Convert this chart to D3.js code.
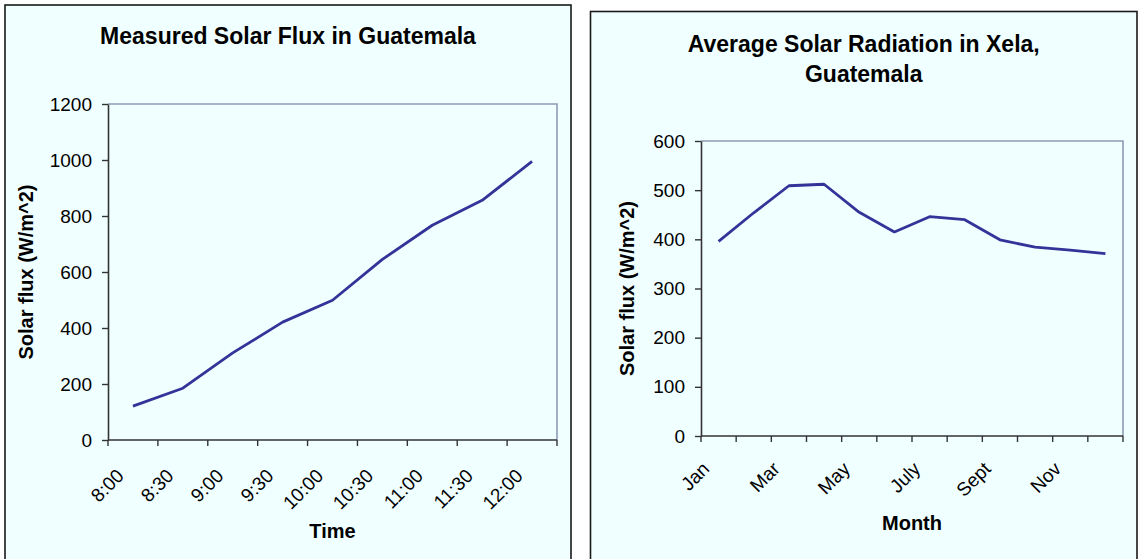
<!DOCTYPE html>
<html>
<head>
<meta charset="utf-8">
<script src="https://cdn.jsdelivr.net/npm/d3@7"></script>
<style>
  html, body { margin: 0; padding: 0; background: #ffffff; }
  svg { display: block; }
  text { font-family: "Liberation Sans", Arial, sans-serif; fill: #000; }
</style>
</head>
<body>
<svg id="chart" width="1139" height="559"></svg>
<script>
// ---- Data ----
const times = ["8:00", "8:30", "9:00", "9:30", "10:00", "10:30", "11:00", "11:30", "12:00"];
const fluxValues = [121, 185, 311, 421, 499, 645, 767, 856, 995];
const fluxTicks = [0, 200, 400, 600, 800, 1000, 1200];

const months = ["Jan", "Feb", "Mar", "Apr", "May", "June", "July", "Aug", "Sept", "Oct", "Nov", "Dec"];
const monthLabels = ["Jan", "Mar", "May", "July", "Sept", "Nov"];
const radiationValues = [396, 454, 509, 512, 455, 415, 446, 440, 399, 384, 378, 371];
const radiationTicks = [0, 100, 200, 300, 400, 500, 600];

const svg = d3.select("#chart");
const BG = "#F0FFFF";
const LINE = "#333399";
const TICK_FS = 19;

function drawPanel(cfg) {
  const g = svg.append("g");
  // panel
  g.append("rect")
    .attr("x", cfg.panel.x).attr("y", cfg.panel.y)
    .attr("width", cfg.panel.w).attr("height", cfg.panel.h)
    .attr("fill", BG).attr("stroke", "#1a1a1a").attr("stroke-width", 1.6);

  const x = d3.scaleBand().domain(cfg.cats).range([cfg.plot.x0, cfg.plot.x1]).padding(0);
  const y = d3.scaleLinear().domain([0, d3.max(cfg.ticks)]).range([cfg.plot.y1, cfg.plot.y0]);

  // plot frame (top/right)
  g.append("path")
    .attr("d", `M${x.range()[0]},${y(d3.max(cfg.ticks))}H${x.range()[1]}V${y(0)}`)
    .attr("fill", "none").attr("stroke", "#8f9bb8").attr("stroke-width", 1.6);

  // y axis
  const yAxis = d3.axisLeft(y).tickValues(cfg.ticks).tickFormat(d3.format("d"))
    .tickSize(6).tickPadding(10).tickSizeOuter(0);
  const ya = g.append("g").attr("transform", `translate(${x.range()[0]},0)`).call(yAxis);
  ya.attr("font-size", TICK_FS).attr("font-family", '"Liberation Sans", Arial, sans-serif');
  ya.select(".domain").attr("stroke", "#333").attr("stroke-width", 1.6);
  ya.selectAll(".tick line").attr("stroke", "#333").attr("stroke-width", 1.4);
  ya.selectAll(".tick text").attr("font-size", TICK_FS).attr("fill", "#000");

  // x axis baseline
  g.append("line")
    .attr("x1", x.range()[0]).attr("x2", x.range()[1])
    .attr("y1", y(0)).attr("y2", y(0))
    .attr("stroke", "#333").attr("stroke-width", 1.6);
  // x ticks at band boundaries
  const bounds = cfg.cats.map(c => x(c)).concat([x.range()[1]]);
  g.selectAll(null).data(bounds).enter().append("line")
    .attr("x1", d => d).attr("x2", d => d)
    .attr("y1", y(0)).attr("y2", y(0) + 6)
    .attr("stroke", "#333").attr("stroke-width", 1.4);
  // x labels
  g.selectAll(null).data(cfg.labels).enter().append("text")
    .attr("transform", d => `translate(${x(d) + x.bandwidth() / 2 - 8},${y(0) + cfg.labelDy}) rotate(-45)`)
    .attr("text-anchor", "end")
    .attr("font-size", TICK_FS)
    .text(d => d);

  // line
  const line = d3.line()
    .x((d, i) => x(cfg.cats[i]) + x.bandwidth() / 2)
    .y(d => y(d));
  g.append("path").datum(cfg.values)
    .attr("d", line)
    .attr("fill", "none").attr("stroke", LINE).attr("stroke-width", 2.8)
    .attr("stroke-linejoin", "round");

  // titles
  const cx = cfg.panel.x + cfg.panel.w / 2;
  cfg.title.forEach((t, i) => {
    g.append("text").attr("x", cx).attr("y", cfg.titleY + i * 30)
      .attr("text-anchor", "middle").attr("font-size", 23).attr("font-weight", "bold")
      .text(t);
  });
  g.append("text")
    .attr("x", (x.range()[0] + x.range()[1]) / 2).attr("y", cfg.xTitleY)
    .attr("text-anchor", "middle").attr("font-size", 20).attr("font-weight", "bold")
    .text(cfg.xTitle);
  g.append("text")
    .attr("transform", `translate(${cfg.yTitleX},${(y(0) + y(d3.max(cfg.ticks))) / 2}) rotate(-90)`)
    .attr("text-anchor", "middle").attr("font-size", 20).attr("font-weight", "bold")
    .text(cfg.yTitle);
}

drawPanel({
  panel: { x: 5, y: 5, w: 566, h: 600 },
  plot: { x0: 108, x1: 557, y0: 104, y1: 440 },
  cats: times, labels: times, values: fluxValues, ticks: fluxTicks,
  labelDy: 37,
  title: ["Measured Solar Flux in Guatemala"], titleY: 44,
  xTitle: "Time", xTitleY: 538,
  yTitle: "Solar flux (W/m^2)", yTitleX: 33
});

drawPanel({
  panel: { x: 590.5, y: 11.5, w: 546.5, h: 600 },
  plot: { x0: 701, x1: 1123, y0: 141, y1: 436 },
  cats: months, labels: monthLabels, values: radiationValues, ticks: radiationTicks,
  labelDy: 34,
  title: ["Average Solar Radiation in Xela,", "Guatemala"], titleY: 52,
  xTitle: "Month", xTitleY: 530,
  yTitle: "Solar flux (W/m^2)", yTitleX: 634
});
</script>
</body>
</html>
